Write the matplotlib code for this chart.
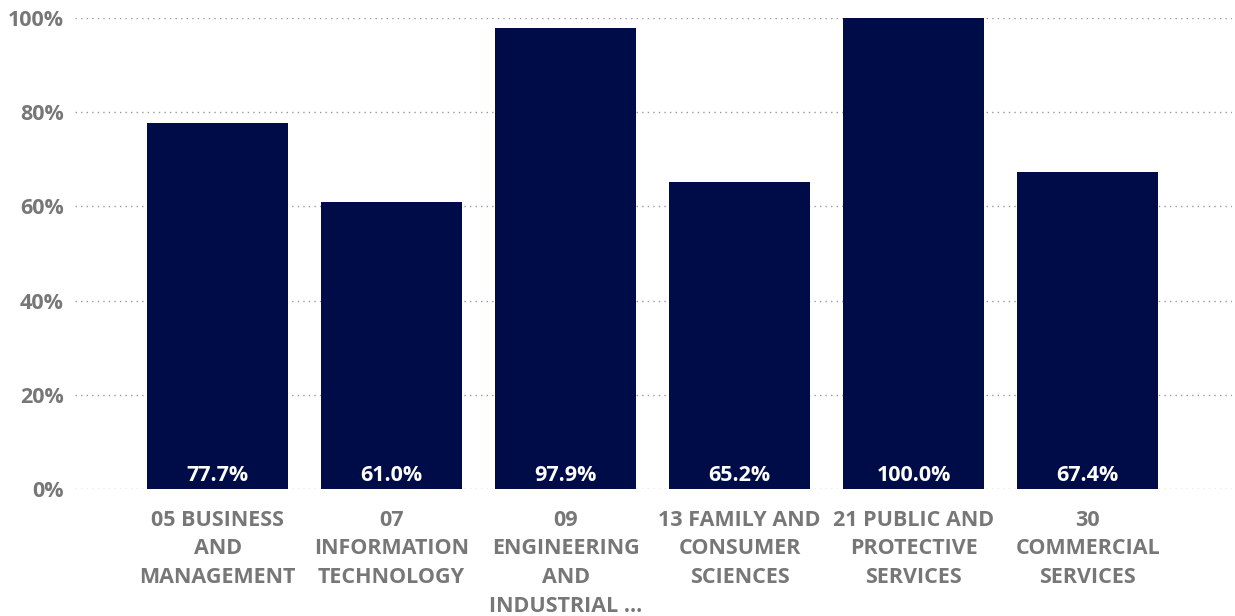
import numpy as np
import matplotlib.pyplot as plt
from matplotlib.ticker import PercentFormatter

categories = ["05 BUSINESS\nAND\nMANAGEMENT", "07\nINFORMATION\nTECHNOLOGY",
              "09\nENGINEERING\nAND\nINDUSTRIAL ...", "13 FAMILY AND\nCONSUMER\nSCIENCES",
              "21 PUBLIC AND\nPROTECTIVE\nSERVICES", "30\nCOMMERCIAL\nSERVICES"]
values = [77.7, 61.0, 97.9, 65.2, 100.0, 67.4]
yticks = [0, 20, 40, 60, 80, 100]

plt.rcParams['font.family'] = ['Open Sans', 'DejaVu Sans']
grey = "#777777"
navy = "#000c48"

fig = plt.figure(figsize=(12.35, 6.16), dpi=100)
ax = fig.add_axes([0.0607, 0.2062, 0.937, 0.7646])

x = np.arange(len(categories))
ax.bar(x, values, width=0.81, color=navy, zorder=3)
for xi, v in zip(x, values):
    ax.text(xi, 0.6, f"{v:.1f}%", ha="center", va="bottom", color="white",
            fontsize=15.5, fontweight="bold", zorder=4)

ax.set_xlim(-0.82, 5.83)
ax.set_ylim(0, 100)
ax.set_yticks(yticks)
ax.yaxis.set_major_formatter(PercentFormatter(decimals=0))
ax.set_xticks(x)
ax.set_xticklabels(categories, linespacing=1.48)
ax.tick_params(axis="x", length=0, labelcolor=grey, labelsize=15.5, pad=15)
ax.tick_params(axis="y", length=0, labelcolor=grey, labelsize=15.5, pad=8)
for lbl in ax.get_xticklabels() + ax.get_yticklabels():
    lbl.set_fontweight("bold")
ax.grid(axis="y", linestyle=(0, (1, 3)), color="#999999", linewidth=1, zorder=0)
for s in ax.spines.values():
    s.set_visible(False)

plt.savefig("out.png")
